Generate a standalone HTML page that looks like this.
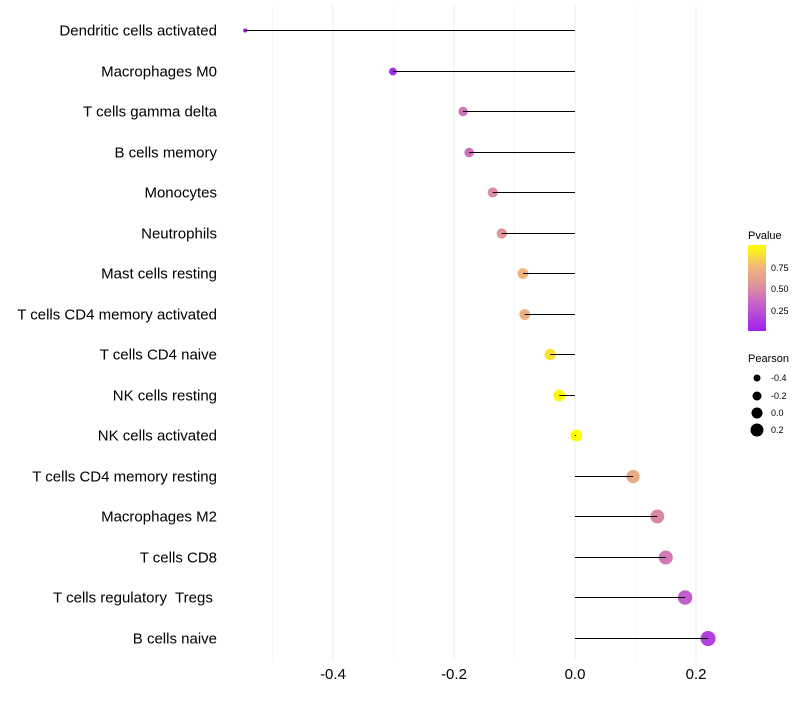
<!DOCTYPE html>
<html><head><meta charset="utf-8"><style>
body{margin:0;background:#fff;font-family:"Liberation Sans",sans-serif;}
svg text{font-family:"Liberation Sans",sans-serif;white-space:pre;}
</style></head><body>
<svg id="chart" width="800" height="700" xmlns="http://www.w3.org/2000/svg">
<g id="grid"></g><g id="marks"></g><g id="labels"></g>
<g>
<defs><linearGradient id="pg" x1="0" y1="1" x2="0" y2="0">
<stop offset="0" stop-color="#a020f0"/><stop offset="0.33" stop-color="#c864c8"/><stop offset="0.5" stop-color="#dc8ca0"/><stop offset="0.75" stop-color="#f0b978"/><stop offset="1" stop-color="#ffff00"/></linearGradient></defs>
<text x="748" y="239" font-size="11">Pvalue</text>
<rect x="748" y="245" width="18" height="86" fill="url(#pg)"/>
<text x="771" y="271" font-size="9">0.75</text>
<text x="771" y="292" font-size="9">0.50</text>
<text x="771" y="314" font-size="9">0.25</text>
</g>
<g>
<text x="748" y="362" font-size="11">Pearson</text>
<circle cx="757" cy="378" r="3.5"/><text x="771" y="381" font-size="9">-0.4</text>
<circle cx="757" cy="396" r="4.5"/><text x="771" y="399" font-size="9">-0.2</text>
<circle cx="757" cy="413" r="5.5"/><text x="771" y="416" font-size="9">0.0</text>
<circle cx="757" cy="430" r="6.5"/><text x="771" y="433" font-size="9">0.2</text>
</g>
</svg>
<script>
const categories=["Dendritic cells activated","Macrophages M0","T cells gamma delta","B cells memory","Monocytes","Neutrophils","Mast cells resting","T cells CD4 memory activated","T cells CD4 naive","NK cells resting","NK cells activated","T cells CD4 memory resting","Macrophages M2","T cells CD8","T cells regulatory  Tregs ","B cells naive"];
const pearson=[-0.545,-0.301,-0.185,-0.175,-0.136,-0.121,-0.086,-0.083,-0.041,-0.026,0.002,0.096,0.136,0.150,0.182,0.220];
const pvalue=[0.0,0.05,0.4,0.38,0.5,0.55,0.72,0.7,0.9,0.97,1.0,0.68,0.48,0.42,0.3,0.15];
const xTicks=[-0.4,-0.2,0.0,0.2];
const xTickLabels=["-0.4","-0.2","0.0","0.2"];
const minorTicks=[-0.5,-0.3,-0.1,0.1];
const NS="http://www.w3.org/2000/svg";
const xs=v=>575+v*605;
const ys=i=>Math.round(30+i*40.5)+0.5;
const rs=v=>6+v*7;
const stops=[[0,[160,32,240]],[0.33,[200,100,200]],[0.5,[220,140,160]],[0.75,[240,185,120]],[1,[255,255,0]]];
function col(p){for(let k=1;k<stops.length;k++){if(p<=stops[k][0]){const a=stops[k-1],b=stops[k];const t=(p-a[0])/(b[0]-a[0]);const c=a[1].map((x,j)=>Math.round(x+(b[1][j]-x)*t));return `rgb(${c})`;}}return "rgb(255,255,0)";}
function mk(t,a,p){const e=document.createElementNS(NS,t);for(const k in a)e.setAttribute(k,a[k]);p.appendChild(e);return e;}
const grid=document.getElementById('grid'),marks=document.getElementById('marks'),labels=document.getElementById('labels');
minorTicks.forEach(v=>{const l=mk('line',{x1:xs(v),x2:xs(v),y1:5,y2:660,stroke:'#f6f6f6','stroke-width':1},grid);

});
xTicks.forEach((v,i)=>{const l=mk('line',{x1:xs(v),x2:xs(v),y1:5,y2:660,stroke:'#eeeeee','stroke-width':1},grid);


const t=mk('text',{x:xs(v),y:679,'font-size':15,'text-anchor':'middle'},labels);t.textContent=xTickLabels[i];

});
categories.forEach((c,i)=>{const y=ys(i);
const t=mk('text',{x:217,y:y+5,'font-size':15,'text-anchor':'end'},labels);t.textContent=c;


const d=mk('circle',{cx:xs(pearson[i]),cy:y,r:Math.max(1.5,rs(pearson[i])),fill:col(pvalue[i])},marks);


const l=mk('line',{x1:xs(0),x2:xs(pearson[i]),y1:y,y2:y,stroke:'#000','stroke-width':1},marks);

});
</script>
</body></html>
